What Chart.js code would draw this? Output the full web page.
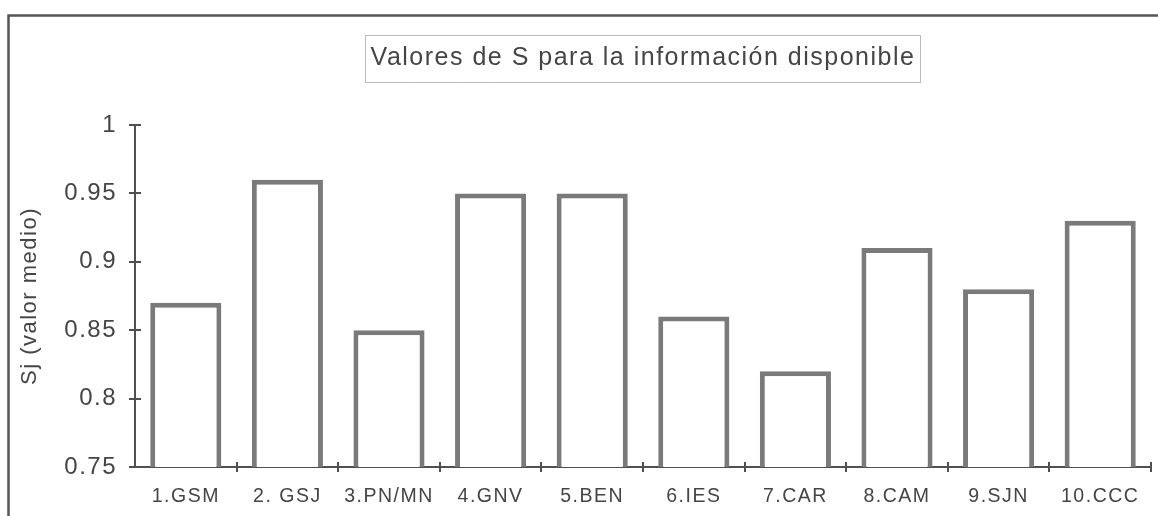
<!DOCTYPE html>
<html>
<head>
<meta charset="utf-8">
<title>Valores de S</title>
<script src="https://cdn.jsdelivr.net/npm/chart.js@4.4.1/dist/chart.umd.min.js"></script>
<style>
  html, body { margin: 0; padding: 0; background: #fff; }
  #wrap { width: 1158px; height: 516px; }
  canvas { display: block; }
</style>
</head>
<body>
<div id="wrap"><canvas id="c" width="1158" height="516"></canvas></div>
<script>
// Mean S value for each site
const categories = ['1.GSM', '2. GSJ', '3.PN/MN', '4.GNV', '5.BEN', '6.IES', '7.CAR', '8.CAM', '9.SJN', '10.CCC'];
const sjValues   = [0.87, 0.96, 0.85, 0.95, 0.95, 0.86, 0.82, 0.91, 0.88, 0.93];
const yTickValues = [0.75, 0.8, 0.85, 0.9, 0.95, 1];
const chartTitle = 'Valores de S para la información disponible';
const yAxisTitle = 'Sj (valor medio)';

const FONT = '"Liberation Sans", Arial, sans-serif';
const INK = '#454545';
const AXIS = '#505050';
const TITLE_SIZE = 25;

// Outer frame, crossing tick marks and the dotted box round the title
const decorations = {
  id: 'decorations',
  beforeDraw(chart) {
    const ctx = chart.ctx;
    ctx.letterSpacing = '1.5px';
    ctx.save();
    ctx.fillStyle = '#fff';
    ctx.fillRect(0, 0, chart.width, chart.height);
    ctx.strokeStyle = '#555';
    ctx.lineWidth = 2.5;
    ctx.beginPath();
    ctx.moveTo(8.5, chart.height);
    ctx.lineTo(8.5, 15.5);
    ctx.lineTo(chart.width, 15.5);
    ctx.stroke();
    ctx.restore();
  },
  afterDraw(chart) {
    const ctx = chart.ctx;
    const xs = chart.scales.x, ys = chart.scales.y;
    ctx.save();
    ctx.strokeStyle = AXIS;
    ctx.lineWidth = 2;
    // value-axis ticks straddle the axis line
    ys.ticks.forEach(t => {
      const py = Math.round(ys.getPixelForValue(t.value));
      ctx.beginPath();
      ctx.moveTo(xs.left - 6, py);
      ctx.lineTo(xs.left + 6, py);
      ctx.stroke();
    });
    // category-axis ticks sit on the boundaries between bars
    const n = categories.length;
    const step = (xs.right - xs.left) / n;
    for (let i = 1; i <= n; i++) {
      const px = Math.round(xs.left + i * step);
      ctx.beginPath();
      ctx.moveTo(px, ys.bottom - 5);
      ctx.lineTo(px, ys.bottom + 5);
      ctx.stroke();
    }
    // dotted frame round the title
    const tb = chart.titleBlock;
    const tOpts = chart.options.plugins.title;
    ctx.font = TITLE_SIZE + 'px ' + FONT;
    const w = ctx.measureText(chartTitle).width;
    const cx = (tb.left + tb.right) / 2;
    const cy = tb.top + tOpts.padding.top + TITLE_SIZE * 1.2 / 2;
    ctx.strokeStyle = '#777';
    ctx.lineWidth = 1;
    ctx.setLineDash([1, 1]);
    ctx.strokeRect(Math.round(cx - w / 2 - 6) + 0.5, Math.round(cy - 23.5) + 0.5, Math.round(w + 10), 47);
    ctx.restore();
  }
};

new Chart(document.getElementById('c'), {
  type: 'bar',
  data: {
    labels: categories,
    datasets: [{
      data: sjValues,
      backgroundColor: '#ffffff',
      borderColor: '#7a7a7a',
      borderWidth: 5,
      borderSkipped: false,
      barPercentage: 0.7,
      categoryPercentage: 1
    }]
  },
  options: {
    responsive: false,
    animation: false,
    devicePixelRatio: 1,
    layout: { padding: { top: 35, right: 7, bottom: 0, left: 0 } },
    plugins: {
      legend: { display: false },
      tooltip: { enabled: false },
      title: {
        display: true,
        text: chartTitle,
        fullSize: false,
        color: INK,
        font: { family: FONT, size: TITLE_SIZE, weight: 'normal', lineHeight: 1.2 },
        padding: { top: 8.5, bottom: 51.5 }
      }
    },
    scales: {
      x: {
        grid: { display: true, drawOnChartArea: false, drawTicks: false },
        border: { display: true, color: AXIS, width: 2 },
        ticks: { color: INK, font: { family: FONT, size: 19.5 }, padding: 18, maxRotation: 0, autoSkip: false },
        afterFit(scale) { scale.height = 49; }
      },
      y: {
        min: 0.75,
        max: 1,
        grid: { display: true, drawOnChartArea: false, drawTicks: false },
        border: { display: true, color: AXIS, width: 2 },
        ticks: {
          color: INK,
          font: { family: FONT, size: 24 },
          padding: 18,
          callback: v => String(Number(Number(v).toFixed(2)))
        },
        afterBuildTicks(scale) { scale.ticks = yTickValues.map(v => ({ value: v })); },
        title: {
          display: true,
          text: yAxisTitle,
          color: INK,
          font: { family: FONT, size: 22 },
          padding: { top: 17, bottom: 0 }
        },
        afterFit(scale) { scale.width = 135; }
      }
    }
  },
  plugins: [decorations]
});
</script>
</body>
</html>
